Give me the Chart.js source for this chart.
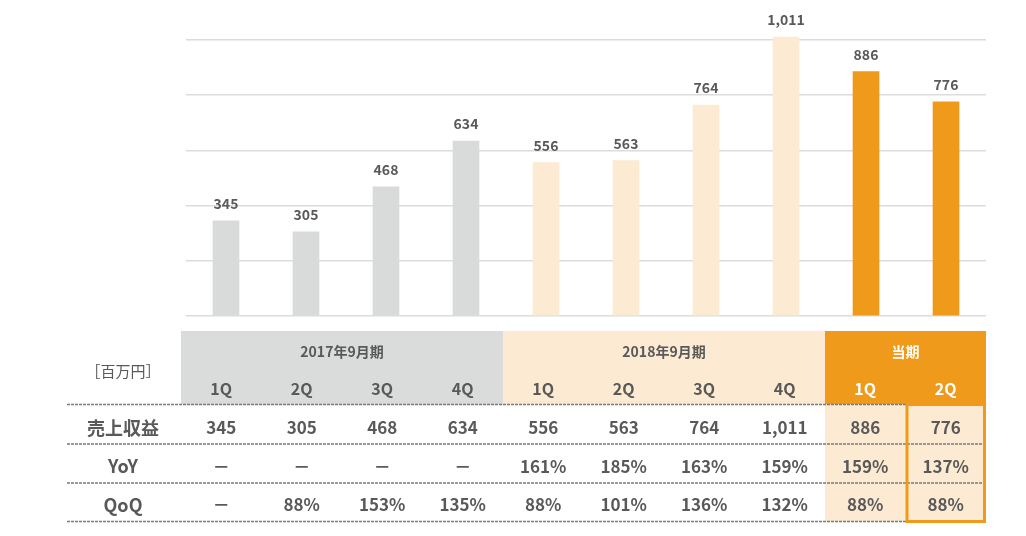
<!DOCTYPE html>
<html>
<head>
<meta charset="utf-8">
<script src="https://cdn.jsdelivr.net/npm/chart.js@4/dist/chart.umd.min.js"></script>
<style>
  html,body{margin:0;padding:0;background:#fff;}
  #wrap{width:1026px;height:536px;position:relative;}
</style>
</head>
<body>
<div id="wrap"><canvas id="c" width="1026" height="536"></canvas></div>
<script>
const quarters = ['1Q','2Q','3Q','4Q','1Q','2Q','3Q','4Q','1Q','2Q'];
const revenue = [345,305,468,634,556,563,764,1011,886,776];
const yoy = ['－','－','－','－','161%','185%','163%','159%','159%','137%'];
const qoq = ['－','88%','153%','135%','88%','101%','136%','132%','88%','88%'];
const groups = ['2017年9月期','2018年9月期','当期'];
const groupSpans = [4,4,2];
const rowLabels = ['売上収益','YoY','QoQ'];
const unitLabel = '［百万円］';

const FONT = '"Noto Sans CJK JP","Noto Sans",sans-serif';
const TXT = '#595959';
const GREY = '#D9DADA';
const BEIGE = '#FDEAD2';
const ORANGE = '#EF9A1A';
const groupColors = [GREY, BEIGE, ORANGE];

const barColors = [];
groupSpans.forEach((n, g) => { for (let i = 0; i < n; i++) barColors.push(groupColors[g]); });

const tablePlugin = {
  id: 'tablePlugin',
  afterDatasetsDraw(chart) {
    const ctx = chart.ctx;
    const ca = chart.chartArea;
    const meta = chart.getDatasetMeta(0);
    ctx.save();
    // bar value labels
    ctx.fillStyle = TXT;
    ctx.font = 'bold 14px ' + FONT;
    ctx.textAlign = 'center';
    ctx.textBaseline = 'middle';
    meta.data.forEach((bar, i) => {
      ctx.fillText(revenue[i].toLocaleString('en-US'), bar.x, bar.y - 17);
    });

    // table geometry
    const left = ca.left - 5;
    const right = ca.right;
    const colW = (right - left) / quarters.length;
    const hTop = 331, hBot = 404.5;
    const rowLines = [404.5, 444, 483, 521.5];
    const labelL = 67;

    // header backgrounds
    let c = 0;
    groupSpans.forEach((n, g) => {
      const x0 = left + c * colW, x1 = left + (c + n) * colW;
      ctx.fillStyle = g === 0 ? '#DADBDB' : groupColors[g];
      ctx.fillRect(x0, hTop, x1 - x0, hBot - hTop);
      c += n;
    });
    // current period body background
    const curStart = left + 8 * colW;
    ctx.fillStyle = BEIGE;
    ctx.fillRect(curStart, hBot, right - curStart, rowLines[3] - hBot);

    // header texts
    c = 0;
    groupSpans.forEach((n, g) => {
      const x0 = left + c * colW, x1 = left + (c + n) * colW;
      ctx.fillStyle = g === 2 ? '#FFFFFF' : TXT;
      ctx.font = 'bold 14px ' + FONT;
      ctx.fillText(groups[g], (x0 + x1) / 2, 352);
      ctx.font = 'bold 16px ' + FONT;
      for (let i = c; i < c + n; i++) {
        ctx.fillText(quarters[i], left + (i + 0.5) * colW, 389);
      }
      c += n;
    });
    ctx.fillStyle = TXT;
    ctx.font = '15px ' + FONT;
    ctx.fillText(unitLabel, 123, 371);

    // dashed lines
    ctx.strokeStyle = '#7A7A7A';
    ctx.lineWidth = 1.5;
    ctx.setLineDash([3, 1]);
    rowLines.forEach(y => {
      ctx.beginPath();
      ctx.moveTo(labelL, y);
      ctx.lineTo(right, y);
      ctx.stroke();
    });
    ctx.setLineDash([]);

    // row texts
    const rows = [revenue.map(v => v.toLocaleString('en-US')), yoy, qoq];
    const rowY = [428, 466.5, 505];
    rows.forEach((vals, r) => {
      ctx.fillStyle = TXT;
      ctx.font = 'bold 18px ' + FONT;
      ctx.fillText(rowLabels[r], 123, rowY[r]);
      vals.forEach((v, i) => {
        ctx.font = 'bold 17px ' + FONT;
        ctx.fillText(v, left + (i + 0.5) * colW, rowY[r]);
      });
    });

    // highlight box around latest quarter
    const bx0 = left + 9 * colW;
    ctx.strokeStyle = ORANGE;
    ctx.lineWidth = 3;
    ctx.strokeRect(bx0 + 1.5, hBot, right - bx0 - 3, rowLines[3] - hBot);
    ctx.restore();
  }
};

new Chart(document.getElementById('c'), {
  type: 'bar',
  data: {
    labels: quarters,
    datasets: [{
      data: revenue,
      backgroundColor: barColors,
      borderWidth: 0,
      barThickness: 26,
      clip: false
    }]
  },
  options: {
    responsive: false,
    animation: false,
    devicePixelRatio: 1,
    layout: { padding: { top: 40, bottom: 220, left: 186, right: 40 } },
    plugins: { legend: { display: false }, tooltip: { enabled: false } },
    scales: {
      x: { display: false },
      y: {
        min: 0, max: 1000,
        ticks: { display: false, stepSize: 200 },
        border: { display: false },
        grid: { color: '#DCDCDC', lineWidth: 1.5, drawTicks: false }
      }
    }
  },
  plugins: [tablePlugin]
});
</script>
</body>
</html>
